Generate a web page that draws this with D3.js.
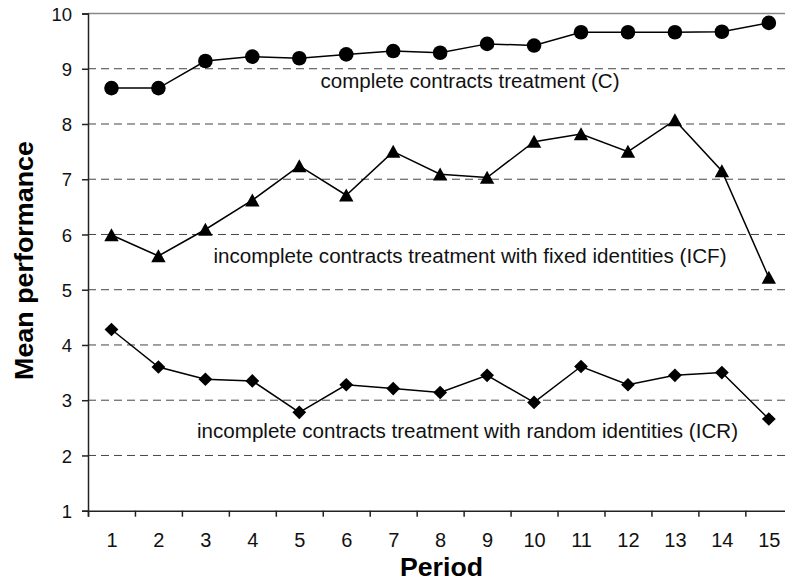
<!DOCTYPE html>
<html>
<head>
<meta charset="utf-8">
<script src="https://cdn.jsdelivr.net/npm/d3@7"></script>
<style>
  html, body { margin: 0; padding: 0; background: #fff; }
  svg { display: block; font-family: Arial, "Liberation Sans", Helvetica, sans-serif; }
  svg text { font-family: Arial, "Liberation Sans", Helvetica, sans-serif; }
</style>
</head>
<body>
<svg id="chart" width="785" height="582"></svg>
<script>
// ---- data ----
const periods = [1,2,3,4,5,6,7,8,9,10,11,12,13,14,15];
const seriesC   = [8.65,8.65,9.14,9.22,9.19,9.26,9.32,9.29,9.45,9.42,9.66,9.66,9.66,9.67,9.83];
const seriesICF = [5.99,5.61,6.09,6.62,7.24,6.71,7.50,7.09,7.03,7.68,7.82,7.50,8.07,7.15,5.22];
const seriesICR = [4.28,3.60,3.38,3.35,2.78,3.28,3.21,3.14,3.45,2.96,3.61,3.28,3.45,3.50,2.66];
const yTicks = [1,2,3,4,5,6,7,8,9,10];
const gridValues = [2,3,4,5,6,7,8,9];
const labelC   = "complete contracts treatment (C)";
const labelICF = "incomplete contracts treatment with fixed identities (ICF)";
const labelICR = "incomplete contracts treatment with random identities (ICR)";
const xTitle = "Period";
const yTitle = "Mean performance";

(function () {
const svg = d3.select("#chart");
const pLeft = 88, pRight = 792.3, pTop = 13.5, pBottom = 510.7;
const x = d3.scaleLinear().domain([0.5, 15.5]).range([pLeft, pRight]);
const y = d3.scaleLinear().domain([1, 10]).range([pBottom, pTop]);

// gridlines
svg.append("g").selectAll("line").data(gridValues).join("line")
  .attr("x1", pLeft).attr("x2", pRight)
  .attr("y1", d => y(d)).attr("y2", d => y(d))
  .attr("stroke", "#444").attr("stroke-width", 1)
  .attr("stroke-dasharray", "8,5");
// top border line
svg.append("line")
  .attr("x1", pLeft).attr("x2", pRight)
  .attr("y1", y(10)).attr("y2", y(10))
  .attr("stroke", "#888").attr("stroke-width", 1.5);

// y axis
const yAxis = svg.append("g").attr("transform", `translate(${pLeft},0)`)
  .call(d3.axisLeft(y).tickValues(yTicks).tickFormat(d3.format("d")).tickSize(6).tickPadding(10));
yAxis.attr("font-family", null);
yAxis.select(".domain").attr("stroke", "#222").attr("stroke-width", 1.5);
yAxis.selectAll(".tick line").attr("stroke", "#222").attr("stroke-width", 1.5);
yAxis.selectAll(".tick text").attr("font-size", 18.5).attr("fill", "#111").attr("dy", "0.36em");

// x axis: boundary ticks
const xAxisTicks = svg.append("g").attr("transform", `translate(0,${pBottom})`)
  .call(d3.axisBottom(x).tickValues(d3.range(0.5, 15.6, 1)).tickSize(6).tickFormat(""));
xAxisTicks.select(".domain").attr("stroke", "#222").attr("stroke-width", 1.5);
xAxisTicks.selectAll(".tick line").attr("stroke", "#222").attr("stroke-width", 1.5);
// x axis: labels at centres
const xAxisLabels = svg.append("g").attr("transform", `translate(0,${pBottom})`)
  .call(d3.axisBottom(x).tickValues(periods).tickSize(0).tickFormat(d3.format("d")));
xAxisLabels.attr("font-family", null);
xAxisLabels.select(".domain").remove();
xAxisLabels.selectAll(".tick text").attr("font-size", 20).attr("fill", "#111")
  .attr("dy", null).attr("y", 36.5);

// lines & markers
const line = d3.line().x((d, i) => x(periods[i])).y(d => y(d));
const series = [
  {vals: seriesC, marker: "circle"},
  {vals: seriesICF, marker: "triangle"},
  {vals: seriesICR, marker: "diamond"}
];
series.forEach(s => {
  svg.append("path").datum(s.vals).attr("d", line)
    .attr("fill", "none").attr("stroke", "#000").attr("stroke-width", 1.5);
  const g = svg.append("g");
  const pts = g.selectAll("path").data(s.vals).join("path")
    .attr("transform", (d, i) => `translate(${x(periods[i])},${y(d)})`)
    .attr("fill", "#000");
  if (s.marker === "circle") pts.attr("d", d3.symbol(d3.symbolCircle, Math.PI * 7.3 * 7.3)());
  if (s.marker === "triangle") pts.attr("d", "M0,-6.8L7.2,6.2L-7.2,6.2Z");
  if (s.marker === "diamond") pts.attr("d", "M0,-6.8L6.9,0L0,6.8L-6.9,0Z");
});

// annotations: fixed size, width forced to the measured one
function placeText(txt, xStart, baseline, targetW, size, weight, anchor) {
  return svg.append("text").attr("x", xStart).attr("y", baseline)
    .attr("font-size", size).attr("font-weight", weight || "normal").attr("fill", "#111")
    .attr("text-anchor", anchor || "start")
    .attr("textLength", targetW).attr("lengthAdjust", "spacingAndGlyphs")
    .text(txt);
}
placeText(labelC, 320.5, 87.5, 299, 20.5);
placeText(labelICF, 213.5, 262.5, 513, 20.5);
placeText(labelICR, 197, 438, 541, 20.5);

// axis titles
placeText(xTitle, 400, 576, 83, 26.5, "bold").attr("fill", "#000");
svg.append("text").attr("transform", "translate(33,380) rotate(-90)")
  .attr("font-weight", "bold").attr("font-size", 26.5)
  .attr("textLength", 239).attr("lengthAdjust", "spacingAndGlyphs")
  .attr("fill", "#000").text(yTitle);
})();
</script>
</body>
</html>
